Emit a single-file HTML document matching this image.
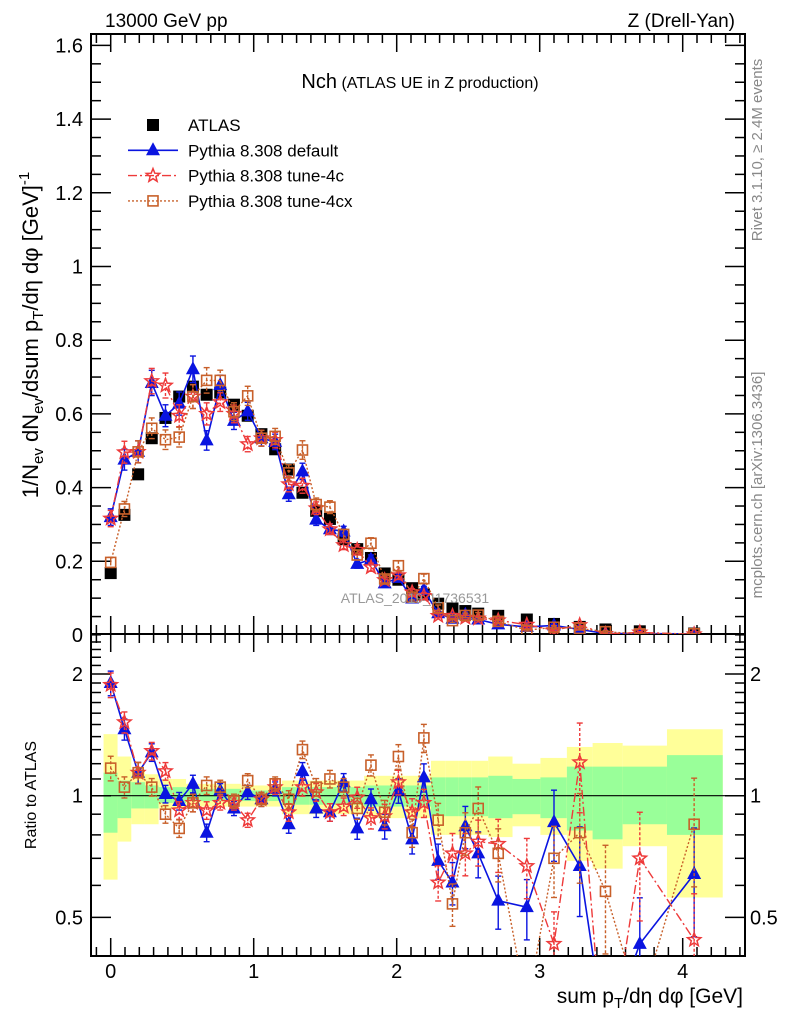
<!DOCTYPE html>
<html><head><meta charset="utf-8"><style>
html,body{margin:0;padding:0;background:#fff;overflow:hidden;width:786px;height:1024px;}
svg{display:block;font-family:"Liberation Sans",sans-serif;}
</style></head><body>
<svg id="chart" xmlns="http://www.w3.org/2000/svg" width="786" height="1024" viewBox="0 0 786 1024">
<defs>
<clipPath id="clipMain"><rect x="91" y="34" width="654" height="600"/></clipPath>
<clipPath id="clipRatio"><rect x="91" y="634" width="654" height="322"/></clipPath>
</defs>
<g id="bands"></g>
<g id="axes"></g>
<g id="series"></g>
<text x="105" y="27" font-size="19">13000 GeV pp</text>
<text x="735" y="27" font-size="19" text-anchor="end">Z (Drell-Yan)</text>
<text x="420" y="88" text-anchor="middle"><tspan font-size="20">Nch</tspan><tspan font-size="16"> (ATLAS UE in Z production)</tspan></text>
<text x="415" y="603" font-size="14" fill="#999" text-anchor="middle">ATLAS_2019_I1736531</text>
<text transform="translate(762,150) rotate(-90)" font-size="15" fill="#888" text-anchor="middle">Rivet 3.1.10, ≥ 2.4M events</text>
<text transform="translate(762,485) rotate(-90)" font-size="15" fill="#888" text-anchor="middle">mcplots.cern.ch [arXiv:1306.3436]</text>
<text transform="translate(38,335) rotate(-90)" font-size="22" text-anchor="middle">1/N<tspan font-size="15" dy="5">ev</tspan><tspan dy="-5"> dN</tspan><tspan font-size="15" dy="5">ev</tspan><tspan dy="-5">/dsum p</tspan><tspan font-size="15" dy="5">T</tspan><tspan dy="-5">/dη dφ  [GeV]</tspan><tspan font-size="15" dy="-9">-1</tspan></text>
<text transform="translate(36,795) rotate(-90)" font-size="16" text-anchor="middle">Ratio to ATLAS</text>
<text x="743" y="1003" font-size="21" text-anchor="end">sum p<tspan font-size="15" dy="5">T</tspan><tspan dy="-5">/dη dφ [GeV]</tspan></text>
<g id="legend"></g>
</svg>
<script>
const xs = [0,0.096,0.192,0.287,0.383,0.479,0.575,0.671,0.766,0.862,0.958,1.054,1.15,1.245,1.341,1.437,1.533,1.629,1.724,1.82,1.916,2.012,2.108,2.19,2.29,2.39,2.48,2.57,2.71,2.91,3.10,3.28,3.46,3.70,4.08];
const atlas = [0.168,0.326,0.436,0.534,0.589,0.647,0.674,0.652,0.658,0.625,0.595,0.545,0.504,0.449,0.386,0.337,0.315,0.26,0.233,0.209,0.167,0.15,0.127,0.11,0.085,0.072,0.065,0.058,0.052,0.042,0.03,0.022,0.015,0.01,0.004];
const pyDefault = [0.32,0.476,0.497,0.684,0.595,0.628,0.721,0.528,0.678,0.581,0.607,0.534,0.524,0.382,0.444,0.313,0.287,0.281,0.193,0.205,0.140,0.155,0.099,0.122,0.059,0.044,0.055,0.042,0.029,0.022,0.026,0.015,0.004,0.004,0.003];
const py4c = [0.316,0.496,0.497,0.689,0.677,0.595,0.647,0.600,0.632,0.600,0.518,0.534,0.529,0.409,0.405,0.344,0.287,0.244,0.231,0.184,0.149,0.162,0.116,0.106,0.052,0.052,0.047,0.045,0.040,0.028,0.013,0.027,0.003,0.007,0.002];
const py4cx = [0.197,0.342,0.497,0.561,0.530,0.537,0.647,0.691,0.691,0.606,0.649,0.534,0.539,0.44,0.502,0.354,0.347,0.273,0.217,0.249,0.152,0.188,0.103,0.153,0.074,0.039,0.053,0.054,0.037,0.013,0.021,0.018,0.009,0.003,0.0034];
const ratioDefault = [1.90,1.46,1.14,1.28,1.01,0.97,1.07,0.81,1.03,0.93,1.02,0.98,1.04,0.85,1.15,0.93,0.91,1.08,0.83,0.98,0.84,1.03,0.78,1.11,0.69,0.61,0.84,0.72,0.55,0.53,0.86,0.67,0.25,0.43,0.64];
const ratio4c = [1.88,1.52,1.14,1.29,1.15,0.92,0.96,0.92,0.96,0.96,0.87,0.98,1.05,0.91,1.05,1.02,0.91,0.94,0.99,0.88,0.89,1.08,0.91,0.96,0.61,0.72,0.72,0.77,0.76,0.67,0.43,1.21,0.2,0.70,0.44];
const ratio4cx = [1.17,1.05,1.14,1.05,0.90,0.83,0.96,1.06,1.05,0.97,1.09,0.98,1.07,0.98,1.30,1.05,1.10,1.05,0.93,1.19,0.91,1.25,0.81,1.39,0.87,0.54,0.81,0.93,0.72,0.3,0.70,0.81,0.58,0.3,0.85];
const relErr = [0.07,0.06,0.06,0.05,0.05,0.05,0.05,0.05,0.04,0.04,0.04,0.04,0.04,0.05,0.05,0.05,0.05,0.05,0.06,0.06,0.07,0.07,0.08,0.08,0.1,0.12,0.12,0.13,0.15,0.17,0.2,0.25,0.3,0.3,0.3];
const bandYHi = [1.42,1.25,1.15,1.13,1.1,1.1,1.07,1.07,1.07,1.07,1.06,1.06,1.06,1.09,1.09,1.09,1.09,1.09,1.09,1.12,1.12,1.12,1.12,1.12,1.22,1.22,1.22,1.22,1.25,1.2,1.24,1.32,1.35,1.33,1.46];
const bandYLo = [0.62,0.77,0.85,0.85,0.93,0.93,0.94,0.94,0.94,0.94,0.94,0.94,0.94,0.9,0.9,0.9,0.9,0.9,0.9,0.88,0.88,0.88,0.88,0.88,0.8,0.8,0.8,0.8,0.79,0.84,0.8,0.69,0.66,0.75,0.56];
const bandGHi = [1.14,1.09,1.08,1.06,1.05,1.05,1.04,1.04,1.04,1.04,1.03,1.03,1.03,1.05,1.05,1.05,1.05,1.05,1.05,1.06,1.06,1.06,1.06,1.06,1.11,1.11,1.11,1.11,1.12,1.1,1.11,1.18,1.18,1.18,1.26];
const bandGLo = [0.81,0.88,0.93,0.93,0.96,0.96,0.97,0.97,0.97,0.97,0.97,0.97,0.97,0.95,0.95,0.95,0.95,0.95,0.95,0.94,0.94,0.94,0.94,0.94,0.89,0.89,0.89,0.89,0.88,0.9,0.88,0.82,0.78,0.85,0.8];
const mainTicks = ["0","0.2","0.4","0.6","0.8","1","1.2","1.4","1.6"];
const xTicks = ["0","1","2","3","4"];
const ratioTicks = ["0.5","1","2"];

const NS="http://www.w3.org/2000/svg";
const L=91,R=745,MT=34,MB=634,RB=956;
const X0=110.7, XS=143;
function sx(v){return X0+v*XS;}
function sy(v){return 635-v*368.5;}
function ry(v){return 795.7-121.7*Math.log2(v);}
function mk(tag,attrs,parent){const e=document.createElementNS(NS,tag);for(const k in attrs)e.setAttribute(k,attrs[k]);parent.appendChild(e);return e;}
const gB=document.getElementById('bands'),gA=document.getElementById('axes'),gS=document.getElementById('series'),gL=document.getElementById('legend');

const edges=[-0.05];
for(let i=0;i<xs.length-1;i++)edges.push((xs[i]+xs[i+1])/2);
edges.push(4.28);
for(let i=0;i<xs.length;i++){
  const y=mk('rect',{x:sx(edges[i]),y:ry(bandYHi[i]),width:sx(edges[i+1])-sx(edges[i]),height:ry(bandYLo[i])-ry(bandYHi[i]),fill:'#ffff99'},gB);
  
  
  const g=mk('rect',{x:sx(edges[i]),y:ry(bandGHi[i]),width:sx(edges[i+1])-sx(edges[i]),height:ry(bandGLo[i])-ry(bandGHi[i]),fill:'#99ff99'},gB);
  
  
}
const one=mk('line',{x1:L,x2:R,y1:ry(1),y2:ry(1),stroke:'#000','stroke-width':1.2},gA);



[[MT,MB],[MB,RB]].forEach(([t,b],k)=>{
  const f=mk('rect',{x:L,y:t,width:R-L,height:b-t,fill:'none',stroke:'#000','stroke-width':2},gA);
  
  
  for(let v=-0.1;v<=4.41;v+=0.1){
    const vv=Math.round(v*10)/10;const px=sx(vv);if(px<L||px>R)continue;
    const len=(Math.abs(vv-Math.round(vv))<1e-6)?18:9;
    mk('line',{x1:px,x2:px,y1:b,y2:b-len,stroke:'#000','stroke-width':1.5},gA);
    mk('line',{x1:px,x2:px,y1:t,y2:t+len,stroke:'#000','stroke-width':1.5},gA);
  }
});
for(let v=0;v<=1.65;v+=0.05){
  const vv=Math.round(v*100)/100;const py=sy(vv);if(py<MT||py>MB)continue;
  const major=Math.abs(vv*5-Math.round(vv*5))<1e-6;const len=major?20:10;
  mk('line',{x1:L,x2:L+len,y1:py,y2:py,stroke:'#000','stroke-width':1.5},gA);
  mk('line',{x1:R,x2:R-len,y1:py,y2:py,stroke:'#000','stroke-width':1.5},gA);
}
mainTicks.forEach((s,i)=>{
  const t=mk('text',{x:83,y:sy(i*0.2)+7,'font-size':20,'text-anchor':'end'},gA);t.textContent=s;
  
  
});
const rmin=[0.4,0.5,0.6,0.7,0.8,0.9,1,1.1,1.2,1.3,1.4,1.5,1.6,1.7,1.8,1.9,2,2.1,2.2,2.3,2.4,2.5];
rmin.forEach(v=>{const py=ry(v);if(py<MB||py>RB)return;const major=(v===0.5||v===1||v===2);const len=major?20:10;
  mk('line',{x1:L,x2:L+len,y1:py,y2:py,stroke:'#000','stroke-width':1.5},gA);
  mk('line',{x1:R,x2:R-len,y1:py,y2:py,stroke:'#000','stroke-width':1.5},gA);});
ratioTicks.forEach(s=>{const v=parseFloat(s);
  const t=mk('text',{x:83,y:ry(v)+7,'font-size':20,'text-anchor':'end'},gA);t.textContent=s;
  
  
  const t2=mk('text',{x:750,y:ry(v)+7,'font-size':20},gA);t2.textContent=s;
  
  });
xTicks.forEach(s=>{const t=mk('text',{x:sx(parseFloat(s)),y:978,'font-size':20,'text-anchor':'middle'},gA);t.textContent=s;
  
  });

function marker(type,x,y,color,parent){
  if(type==='sq') return mk('rect',{x:x-6,y:y-6,width:12,height:12,fill:'#000'},parent);
  if(type==='tri') return mk('polygon',{points:`${x},${y-8} ${x-7},${y+5} ${x+7},${y+5}`,fill:color},parent);
  if(type==='osq') return mk('rect',{x:x-5,y:y-5,width:10,height:10,fill:'none',stroke:color,'stroke-width':1.6},parent);
  if(type==='star'){let p=[];for(let k=0;k<10;k++){const r=k%2?3:7;const a=-Math.PI/2+k*Math.PI/5;p.push((x+r*Math.cos(a)).toFixed(1)+','+(y+r*Math.sin(a)).toFixed(1));}
    return mk('polygon',{points:p.join(' '),fill:'none',stroke:color,'stroke-width':1.5},parent);}
}
const specs=[
 {name:'pythia-default',vals:pyDefault,rat:ratioDefault,color:'#0a14e0',type:'tri',dash:'',w:1.6},
 {name:'pythia-tune-4c',vals:py4c,rat:ratio4c,color:'#ee3a3a',type:'star',dash:'9,3,2,3',w:1.4},
 {name:'pythia-tune-4cx',vals:py4cx,rat:ratio4cx,color:'#c8602a',type:'osq',dash:'2,2',w:1.4},
];
function drawSeries(sp,vals,fy,clip,suffix){
  const g=mk('g',{'clip-path':`url(#${clip})`},gS);
  
  
  const pts=vals.map((v,i)=>sx(xs[i]).toFixed(1)+','+fy(Math.max(v,1e-4)).toFixed(1)).join(' ');
  const pl=mk('polyline',{points:pts,fill:'none',stroke:sp.color,'stroke-width':sp.w,'stroke-dasharray':sp.dash},g);
  
  
  vals.forEach((v,i)=>{
    const x=sx(xs[i]);const e=relErr[i];
    const y1=fy(v*(1+e)),y2=fy(Math.max(v*(1-e),1e-4));
    mk('line',{x1:x,x2:x,y1:y1,y2:y2,stroke:sp.color,'stroke-width':1.4,'stroke-dasharray':sp.dash?'3,2':''},g);
    mk('line',{x1:x-3,x2:x+3,y1:y1,y2:y1,stroke:sp.color,'stroke-width':1.4},g);
    mk('line',{x1:x-3,x2:x+3,y1:y2,y2:y2,stroke:sp.color,'stroke-width':1.4},g);
    const m=marker(sp.type,x,fy(v),sp.color,g);
    
    
  });
}
const gAt=mk('g',{'clip-path':'url(#clipMain)'},gS);


atlas.forEach((v,i)=>{const m=marker('sq',sx(xs[i]),sy(v),'#000',gAt);
  
  });
specs.forEach(sp=>{drawSeries(sp,sp.vals,sy,'clipMain','');drawSeries(sp,sp.rat,ry,'clipRatio','-ratio');});

const leg=[{t:'ATLAS',type:'sq',color:'#000',dash:null},...specs.map((s,i)=>({t:['Pythia 8.308 default','Pythia 8.308 tune-4c','Pythia 8.308 tune-4cx'][i],type:s.type,color:s.color,dash:s.dash,w:s.w}))];
leg.forEach((e,i)=>{const y=125+i*25.3;
  const g=mk('g',{},gL);
  
  
  if(e.dash!==null) mk('line',{x1:128,x2:178,y1:y,y2:y,stroke:e.color,'stroke-width':e.w,'stroke-dasharray':e.dash},g);
  marker(e.type,153,y,e.color,g);
  const t=mk('text',{x:188,y:y+6,'font-size':17},g);t.textContent=e.t;});
</script>
</body></html>
